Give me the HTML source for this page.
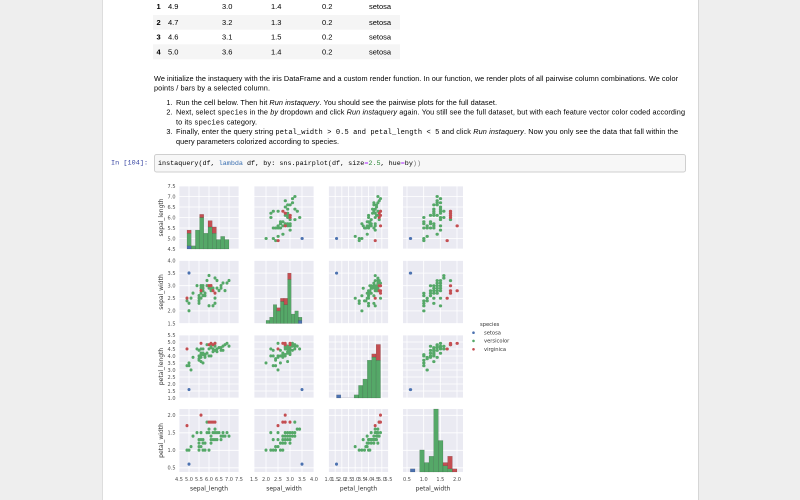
<!DOCTYPE html>
<html><head><meta charset="utf-8">
<style>
html,body{margin:0;padding:0;width:800px;height:500px;overflow:hidden;background:#eeeeee;}
svg{position:absolute;left:0;top:0;display:block;}
.tk{font-family:"DejaVu Sans","Liberation Sans",sans-serif;font-size:5px;fill:#4d4d4d;}
.al{font-family:"DejaVu Sans","Liberation Sans",sans-serif;font-size:6px;fill:#333;}
.tx{font-family:"Liberation Sans",Arial,sans-serif;font-size:7.3px;fill:#000;}
.tb{font-family:"Liberation Sans",Arial,sans-serif;font-size:7.5px;fill:#000;}
.mono{font-family:"Liberation Mono",monospace;font-size:7px;}
.it{font-style:italic;}
.pt{fill:none;stroke-linecap:round;stroke-width:3px;vector-effect:non-scaling-stroke;}
.g{stroke:#55A868;} .r{stroke:#C44E52;} .b{stroke:#4C72B0;}
.hb{stroke:#000;stroke-opacity:.3;stroke-width:.35;}
</style></head>
<body>
<svg width="800" height="500" viewBox="0 0 800 500" xmlns="http://www.w3.org/2000/svg">
<defs>
<g id="P1">
<path class="pt b" d="M3.5 5h.01"/>
<path class="pt g" d="M3.2 7h.01M3.2 6.4h.01M3.1 6.9h.01M2.3 5.5h.01M2.8 6.5h.01M2.8 5.7h.01M3.3 6.3h.01M2.4 4.9h.01M2.9 6.6h.01M2.7 5.2h.01M2 5h.01M3 5.9h.01M2.2 6h.01M2.9 6.1h.01M2.9 5.6h.01M3.1 6.7h.01M3 5.6h.01M2.7 5.8h.01M2.2 6.2h.01M2.5 5.6h.01M3.2 5.9h.01M2.8 6.1h.01M2.5 6.3h.01M2.9 6.4h.01M3 6.6h.01M2.8 6.8h.01M2.9 6h.01M2.6 5.7h.01M2.4 5.5h.01M3 5.4h.01M3.4 6h.01M2.3 6.3h.01M2.5 5.5h.01M2.6 5.5h.01M3 6.1h.01M2.6 5.8h.01M2.3 5h.01M2.7 5.6h.01M3 5.7h.01M2.9 5.7h.01M2.9 6.2h.01M2.5 5.1h.01"/>
<path class="pt r" d="M2.5 4.9h.01M2.8 5.6h.01M2.7 6.3h.01M2.8 6.2h.01M3 6.1h.01M3 6h.01"/>
</g>
<g id="P2">
<path class="pt b" d="M1.6 5h.01"/>
<path class="pt g" d="M4.7 7h.01M4.5 6.4h.01M4.9 6.9h.01M4 5.5h.01M4.6 6.5h.01M4.5 5.7h.01M4.7 6.3h.01M3.3 4.9h.01M4.6 6.6h.01M3.9 5.2h.01M3.5 5h.01M4.2 5.9h.01M4 6h.01M4.7 6.1h.01M3.6 5.6h.01M4.4 6.7h.01M4.5 5.6h.01M4.1 5.8h.01M4.5 6.2h.01M3.9 5.6h.01M4.8 5.9h.01M4 6.1h.01M4.9 6.3h.01M4.3 6.4h.01M4.4 6.6h.01M4.8 6.8h.01M4.5 6h.01M3.5 5.7h.01M3.8 5.5h.01M3.7 5.5h.01M3.9 5.8h.01M4.5 5.4h.01M4.7 6.7h.01M4.4 6.3h.01M4.1 5.6h.01M4.4 5.5h.01M4.6 6.1h.01M4 5.8h.01M3.3 5h.01M4.2 5.6h.01M4.2 5.7h.01M4.3 6.2h.01M3 5.1h.01M4.1 5.7h.01"/>
<path class="pt r" d="M4.5 4.9h.01M4.9 5.6h.01M4.9 6.3h.01M4.8 6.2h.01M4.9 6.1h.01M4.8 6h.01"/>
</g>
<g id="P3">
<path class="pt b" d="M.6 5h.01"/>
<path class="pt g" d="M1.4 7h.01M1.5 6.4h.01M1.5 6.9h.01M1.3 5.5h.01M1.5 6.5h.01M1.3 5.7h.01M1.6 6.3h.01M1 4.9h.01M1.3 6.6h.01M1.4 5.2h.01M1 5h.01M1.5 5.9h.01M1 6h.01M1.4 6.1h.01M1.3 5.6h.01M1.4 6.7h.01M1.5 5.6h.01M1 5.8h.01M1.5 6.2h.01M1.1 5.6h.01M1.8 5.9h.01M1.3 6.1h.01M1.5 6.3h.01M1.2 6.1h.01M1.3 6.4h.01M1.4 6.6h.01M1.4 6.8h.01M1.5 6h.01M1 5.7h.01M1.1 5.5h.01M1 5.5h.01M1.2 5.8h.01M1.5 5.4h.01M1.6 6h.01M1.5 6.7h.01M1.3 6.3h.01M1.2 5.5h.01M1.2 5.7h.01M1.3 6.2h.01M1.1 5.1h.01"/>
<path class="pt r" d="M1.7 4.9h.01M2 5.6h.01M1.8 6.3h.01M1.8 6.2h.01M1.8 6.1h.01M1.8 6h.01"/>
</g>
<g id="P4">
<path class="pt b" d="M1.6 3.5h.01"/>
<path class="pt g" d="M4.7 3.2h.01M4.5 3.2h.01M4.9 3.1h.01M4 2.3h.01M4.6 2.8h.01M4.5 2.8h.01M4.7 3.3h.01M3.3 2.4h.01M4.6 2.9h.01M3.9 2.7h.01M3.5 2h.01M4.2 3h.01M4 2.2h.01M4.7 2.9h.01M3.6 2.9h.01M4.4 3.1h.01M4.5 3h.01M4.1 2.7h.01M4.5 2.2h.01M3.9 2.5h.01M4.8 3.2h.01M4 2.8h.01M4.9 2.5h.01M4.7 2.8h.01M4.3 2.9h.01M4.4 3h.01M4.8 2.8h.01M4.5 2.9h.01M3.5 2.6h.01M3.8 2.4h.01M3.7 2.4h.01M4.5 3.4h.01M4.7 3.1h.01M4.4 2.3h.01M4.1 3h.01M4 2.5h.01M4.4 2.6h.01M4.6 3h.01M4 2.6h.01M3.3 2.3h.01M4.2 2.7h.01M4.2 2.9h.01M3 2.5h.01M4.1 2.8h.01"/>
<path class="pt r" d="M4.5 2.5h.01M4.9 2.8h.01M4.9 2.7h.01M4.8 2.8h.01M4.9 3h.01M4.8 3h.01"/>
</g>
<g id="P5">
<path class="pt b" d="M.6 3.5h.01"/>
<path class="pt g" d="M1.4 3.2h.01M1.5 3.2h.01M1.5 3.1h.01M1.3 2.3h.01M1.5 2.8h.01M1.3 2.8h.01M1.6 3.3h.01M1 2.4h.01M1.3 2.9h.01M1.4 2.7h.01M1 2h.01M1.5 3h.01M1 2.2h.01M1.4 2.9h.01M1.4 3.1h.01M1 2.7h.01M1.5 2.2h.01M1.1 2.5h.01M1.8 3.2h.01M1.5 2.5h.01M1.2 2.8h.01M1.4 3h.01M1.4 2.8h.01M1.5 2.9h.01M1 2.6h.01M1.1 2.4h.01M1.2 2.7h.01M1.6 3.4h.01M1.3 3h.01M1.3 2.5h.01M1.2 2.6h.01M1 2.3h.01M1.3 2.7h.01M1.2 3h.01"/>
<path class="pt r" d="M1.7 2.5h.01M2 2.8h.01M1.8 2.7h.01M1.8 2.8h.01M1.8 3h.01"/>
</g>
<g id="P6">
<path class="pt b" d="M.6 1.6h.01"/>
<path class="pt g" d="M1.4 4.7h.01M1.5 4.5h.01M1.5 4.9h.01M1.3 4h.01M1.5 4.6h.01M1.3 4.5h.01M1.6 4.7h.01M1 3.3h.01M1.3 4.6h.01M1.4 3.9h.01M1 3.5h.01M1.5 4.2h.01M1 4h.01M1.3 3.6h.01M1.4 4.4h.01M1 4.1h.01M1.1 3.9h.01M1.8 4.8h.01M1.2 4.7h.01M1.3 4.3h.01M1.4 4.8h.01M1.1 3.8h.01M1 3.7h.01M1.2 3.9h.01M1.6 4.5h.01M1.5 4.7h.01M1.3 4.4h.01M1.3 4.1h.01M1.2 4.4h.01M1.4 4.6h.01M1.2 4h.01M1.3 4.2h.01M1.2 4.2h.01M1.1 3h.01"/>
<path class="pt r" d="M1.7 4.5h.01M2 4.9h.01M1.8 4.9h.01M1.8 4.8h.01"/>
</g>
</defs>

<!-- page -->
<rect x="0" y="0" width="800" height="500" fill="#eeeeee"/>
<rect x="103" y="0" width="595" height="500" fill="#ffffff"/>
<line x1="102.5" y1="0" x2="102.5" y2="500" stroke="#dddddd" stroke-width="1"/>
<line x1="698.5" y1="0" x2="698.5" y2="500" stroke="#d6d6d6" stroke-width="1"/>

<!-- table -->
<rect x="153" y="15" width="247" height="14.7" fill="#f5f5f5"/>
<rect x="153" y="44.3" width="247" height="15" fill="#f5f5f5"/>
<g class="tb">
<text x="156.5" y="9" font-weight="bold">1</text><text x="168" y="9">4.9</text><text x="222" y="9">3.0</text><text x="271" y="9">1.4</text><text x="322" y="9">0.2</text><text x="369" y="9">setosa</text>
<text x="156.5" y="24.8" font-weight="bold">2</text><text x="168" y="24.8">4.7</text><text x="222" y="24.8">3.2</text><text x="271" y="24.8">1.3</text><text x="322" y="24.8">0.2</text><text x="369" y="24.8">setosa</text>
<text x="156.5" y="39.5" font-weight="bold">3</text><text x="168" y="39.5">4.6</text><text x="222" y="39.5">3.1</text><text x="271" y="39.5">1.5</text><text x="322" y="39.5">0.2</text><text x="369" y="39.5">setosa</text>
<text x="156.5" y="54.5" font-weight="bold">4</text><text x="168" y="54.5">5.0</text><text x="222" y="54.5">3.6</text><text x="271" y="54.5">1.4</text><text x="322" y="54.5">0.2</text><text x="369" y="54.5">setosa</text>
</g>

<!-- markdown text -->
<g class="tx">
<text x="154" y="80.8" textLength="524" lengthAdjust="spacing">We initialize the instaquery with the iris DataFrame and a custom render function. In our function, we render plots of all pairwise column combinations. We color</text>
<text x="154" y="90.5" textLength="116" lengthAdjust="spacing">points / bars by a selected column.</text>
<text x="172.5" y="105" text-anchor="end">1.</text>
<text x="176" y="105" textLength="321" lengthAdjust="spacing">Run the cell below. Then hit <tspan class="it">Run instaquery</tspan>. You should see the pairwise plots for the full dataset.</text>
<text x="172.5" y="114.7" text-anchor="end">2.</text>
<text x="176" y="114.7" textLength="509" lengthAdjust="spacing">Next, select <tspan class="mono">species</tspan> in the <tspan class="it">by</tspan> dropdown and click <tspan class="it">Run instaquery</tspan> again. You still see the full dataset, but with each feature vector color coded according</text>
<text x="176" y="124.4" textLength="81" lengthAdjust="spacing">to its <tspan class="mono">species</tspan> category.</text>
<text x="172.5" y="134.1" text-anchor="end">3.</text>
<text x="176" y="134.1" textLength="502" lengthAdjust="spacing">Finally, enter the query string <tspan class="mono">petal_width &gt; 0.5 and petal_length &lt; 5</tspan> and click <tspan class="it">Run instaquery</tspan>. Now you only see the data that fall within the</text>
<text x="176" y="143.8" textLength="163" lengthAdjust="spacing">query parameters colorized according to species.</text>
</g>

<!-- code cell -->
<text x="111" y="164.5" font-family="Liberation Mono, monospace" font-size="6.75" fill="#303F9F" textLength="37" lengthAdjust="spacing">In [104]:</text>
<rect x="154.5" y="154.5" width="531" height="17.5" rx="2" fill="#f7f7f7" stroke="#cfcfcf" stroke-width="1"/>
<text x="158" y="164.8" font-family="Liberation Mono, monospace" font-size="6.75" fill="#000" textLength="263" lengthAdjust="spacing">instaquery(df, <tspan fill="#3a6fb0">lambda</tspan> df, by: sns.pairplot(df, size<tspan fill="#aa22ff">=</tspan><tspan fill="#2e8b3a">2.5</tspan>, hue<tspan fill="#aa22ff">=</tspan>by<tspan fill="#777">))</tspan></text>

<!-- axes backgrounds -->
<g fill="#EAEAF2">
<rect x="179" y="186" width="60" height="63"/><rect x="254" y="186" width="60" height="63"/><rect x="328.5" y="186" width="60" height="63"/><rect x="403" y="186" width="60" height="63"/>
<rect x="179" y="260.5" width="60" height="63"/><rect x="254" y="260.5" width="60" height="63"/><rect x="328.5" y="260.5" width="60" height="63"/><rect x="403" y="260.5" width="60" height="63"/>
<rect x="179" y="335" width="60" height="63"/><rect x="254" y="335" width="60" height="63"/><rect x="328.5" y="335" width="60" height="63"/><rect x="403" y="335" width="60" height="63"/>
<rect x="179" y="409" width="60" height="63"/><rect x="254" y="409" width="60" height="63"/><rect x="328.5" y="409" width="60" height="63"/><rect x="403" y="409" width="60" height="63"/>
</g>

<!-- grid -->
<path stroke="#ffffff" stroke-width="0.8" fill="none" d="
M179 186V472M189 186V472M199 186V472M209 186V472M219 186V472M229 186V472M239 186V472
M254 186V472M266 186V472M278 186V472M290 186V472M302 186V472M314 186V472
M328.5 186V472M335.17 186V472M341.83 186V472M348.5 186V472M355.17 186V472M361.83 186V472M368.5 186V472M375.17 186V472M381.83 186V472M388.5 186V472
M407 186V472M423.67 186V472M440.33 186V472M457 186V472
M179 186H463M179 196.5H463M179 207H463M179 217.5H463M179 228H463M179 238.5H463M179 249H463
M179 260.5H463M179 273.1H463M179 285.7H463M179 298.3H463M179 310.9H463M179 323.5H463
M179 335H463M179 342H463M179 349H463M179 356H463M179 363H463M179 370H463M179 377H463M179 384H463M179 391H463M179 398H463
M179 415.3H463M179 432.8H463M179 450.3H463M179 467.8H463"/>

<!-- histograms -->
<g class="hb">
<rect x="187" y="245.85" width="4.2" height="3.15" fill="#4C72B0"/>
<rect x="187" y="233.25" width="4.2" height="12.6" fill="#55A868"/>
<rect x="187" y="230.1" width="4.2" height="3.15" fill="#C44E52"/>
<rect x="191.2" y="245.85" width="4.2" height="3.15" fill="#55A868"/>
<rect x="195.4" y="230.1" width="4.2" height="18.9" fill="#55A868"/>
<rect x="199.6" y="217.5" width="4.2" height="31.5" fill="#55A868"/>
<rect x="199.6" y="214.35" width="4.2" height="3.15" fill="#C44E52"/>
<rect x="203.8" y="233.25" width="4.2" height="15.75" fill="#55A868"/>
<rect x="208" y="226.95" width="4.2" height="22.05" fill="#55A868"/>
<rect x="208" y="220.65" width="4.2" height="6.3" fill="#C44E52"/>
<rect x="212.2" y="233.25" width="4.2" height="15.75" fill="#55A868"/>
<rect x="212.2" y="226.95" width="4.2" height="6.3" fill="#C44E52"/>
<rect x="216.4" y="239.55" width="4.2" height="9.45" fill="#55A868"/>
<rect x="220.6" y="236.4" width="4.2" height="12.6" fill="#55A868"/>
<rect x="224.8" y="239.55" width="4.2" height="9.45" fill="#55A868"/>
<rect x="266" y="320.35" width="3.6" height="3.15" fill="#55A868"/>
<rect x="269.6" y="317.2" width="3.6" height="6.3" fill="#55A868"/>
<rect x="273.2" y="304.6" width="3.6" height="18.9" fill="#55A868"/>
<rect x="276.8" y="310.9" width="3.6" height="12.6" fill="#55A868"/>
<rect x="276.8" y="307.75" width="3.6" height="3.15" fill="#C44E52"/>
<rect x="280.4" y="301.45" width="3.6" height="22.05" fill="#55A868"/>
<rect x="280.4" y="298.3" width="3.6" height="3.15" fill="#C44E52"/>
<rect x="284" y="304.6" width="3.6" height="18.9" fill="#55A868"/>
<rect x="284" y="298.3" width="3.6" height="6.3" fill="#C44E52"/>
<rect x="287.6" y="279.4" width="3.6" height="44.1" fill="#55A868"/>
<rect x="287.6" y="273.1" width="3.6" height="6.3" fill="#C44E52"/>
<rect x="291.2" y="314.05" width="3.6" height="9.45" fill="#55A868"/>
<rect x="294.8" y="310.9" width="3.6" height="12.6" fill="#55A868"/>
<rect x="298.4" y="320.35" width="3.6" height="3.15" fill="#4C72B0"/>
<rect x="298.4" y="317.2" width="3.6" height="3.15" fill="#55A868"/>
<rect x="336.5" y="394.85" width="4.4" height="3.15" fill="#4C72B0"/>
<rect x="340.9" y="397.4" width="13.2" height="0.6" fill="#cfcfd8" stroke="none"/>
<rect x="354.1" y="394.85" width="4.4" height="3.15" fill="#55A868"/>
<rect x="358.5" y="385.4" width="4.4" height="12.6" fill="#55A868"/>
<rect x="362.9" y="379.1" width="4.4" height="18.9" fill="#55A868"/>
<rect x="367.3" y="360.2" width="4.4" height="37.8" fill="#55A868"/>
<rect x="371.7" y="357.05" width="4.4" height="40.95" fill="#55A868"/>
<rect x="371.7" y="353.9" width="4.4" height="3.15" fill="#C44E52"/>
<rect x="376.1" y="360.2" width="4.4" height="37.8" fill="#55A868"/>
<rect x="376.1" y="344.45" width="4.4" height="15.75" fill="#C44E52"/>
<rect x="410.33" y="468.85" width="4.67" height="3.15" fill="#4C72B0"/>
<rect x="419.67" y="449.95" width="4.67" height="22.05" fill="#55A868"/>
<rect x="424.33" y="462.55" width="4.67" height="9.45" fill="#55A868"/>
<rect x="429" y="456.25" width="4.67" height="15.75" fill="#55A868"/>
<rect x="433.67" y="409" width="4.67" height="63" fill="#55A868"/>
<rect x="438.33" y="440.5" width="4.67" height="31.5" fill="#55A868"/>
<rect x="443" y="465.7" width="4.67" height="6.3" fill="#55A868"/>
<rect x="443" y="462.55" width="4.67" height="3.15" fill="#C44E52"/>
<rect x="447.67" y="468.85" width="4.67" height="3.15" fill="#55A868"/>
<rect x="447.67" y="456.25" width="4.67" height="12.6" fill="#C44E52"/>
<rect x="452.33" y="468.85" width="4.67" height="3.15" fill="#C44E52"/>
</g>

<!-- scatter panels -->
<use href="#P1" transform="matrix(24,0,0,-21,218,343.5)"/>
<use href="#P2" transform="matrix(13.3333,0,0,-21,315.1667,343.5)"/>
<use href="#P3" transform="matrix(33.3333,0,0,-21,390.3333,343.5)"/>
<use href="#P1" transform="matrix(0,-25.2,20,0,89,361.3)"/>
<use href="#P4" transform="matrix(13.3333,0,0,-25.2,315.1667,361.3)"/>
<use href="#P5" transform="matrix(33.3333,0,0,-25.2,390.3333,361.3)"/>
<use href="#P2" transform="matrix(0,-14,20,0,89,412)"/>
<use href="#P4" transform="matrix(0,-14,24,0,218,412)"/>
<use href="#P6" transform="matrix(33.3333,0,0,-14,390.3333,412)"/>
<use href="#P3" transform="matrix(0,-35,20,0,89,485.3)"/>
<use href="#P5" transform="matrix(0,-35,24,0,218,485.3)"/>
<use href="#P6" transform="matrix(0,-35,13.3333,0,315.1667,485.3)"/>

<!-- y tick labels -->
<g class="tk" text-anchor="end">
<text x="175.5" y="187.8">7.5</text><text x="175.5" y="198.3">7.0</text><text x="175.5" y="208.8">6.5</text><text x="175.5" y="219.3">6.0</text><text x="175.5" y="229.8">5.5</text><text x="175.5" y="240.3">5.0</text><text x="175.5" y="250.8">4.5</text>
<text x="175.5" y="262.3">4.0</text><text x="175.5" y="274.9">3.5</text><text x="175.5" y="287.5">3.0</text><text x="175.5" y="300.1">2.5</text><text x="175.5" y="312.7">2.0</text><text x="175.5" y="325.3">1.5</text>
<text x="175.5" y="336.8">5.5</text><text x="175.5" y="343.8">5.0</text><text x="175.5" y="350.8">4.5</text><text x="175.5" y="357.8">4.0</text><text x="175.5" y="364.8">3.5</text><text x="175.5" y="371.8">3.0</text><text x="175.5" y="378.8">2.5</text><text x="175.5" y="385.8">2.0</text><text x="175.5" y="392.8">1.5</text><text x="175.5" y="399.8">1.0</text>
<text x="175.5" y="417.1">2.0</text><text x="175.5" y="434.6">1.5</text><text x="175.5" y="452.1">1.0</text><text x="175.5" y="469.6">0.5</text>
</g>

<!-- x tick labels -->
<g class="tk" text-anchor="middle">
<text x="179" y="481">4.5</text><text x="189" y="481">5.0</text><text x="199" y="481">5.5</text><text x="209" y="481">6.0</text><text x="219" y="481">6.5</text><text x="229" y="481">7.0</text><text x="239" y="481">7.5</text>
<text x="254" y="481">1.5</text><text x="266" y="481">2.0</text><text x="278" y="481">2.5</text><text x="290" y="481">3.0</text><text x="302" y="481">3.5</text><text x="314" y="481">4.0</text>
<text x="328.5" y="481">1.0</text><text x="335.17" y="481">1.5</text><text x="341.83" y="481">2.0</text><text x="348.5" y="481">2.5</text><text x="355.17" y="481">3.0</text><text x="361.83" y="481">3.5</text><text x="368.5" y="481">4.0</text><text x="375.17" y="481">4.5</text><text x="381.83" y="481">5.0</text><text x="388.5" y="481">5.5</text>
<text x="407" y="481">0.5</text><text x="423.67" y="481">1.0</text><text x="440.33" y="481">1.5</text><text x="457" y="481">2.0</text>
</g>

<!-- axis labels -->
<g class="al" text-anchor="middle">
<text x="209" y="490.5">sepal_length</text>
<text x="284" y="490.5">sepal_width</text>
<text x="358.5" y="490.5">petal_length</text>
<text x="433" y="490.5">petal_width</text>
<text transform="translate(163,217.5) rotate(-90)">sepal_length</text>
<text transform="translate(163,292) rotate(-90)">sepal_width</text>
<text transform="translate(163,366.5) rotate(-90)">petal_length</text>
<text transform="translate(163,440.5) rotate(-90)">petal_width</text>
</g>

<!-- legend -->
<g font-family="DejaVu Sans, Liberation Sans, sans-serif" font-size="5.2" fill="#333">
<text x="480" y="326">species</text>
<circle cx="473.5" cy="332.7" r="1.3" fill="#4C72B0"/>
<text x="484" y="334.5">setosa</text>
<circle cx="473.5" cy="340.9" r="1.3" fill="#55A868"/>
<text x="484" y="342.7">versicolor</text>
<circle cx="473.5" cy="349.3" r="1.3" fill="#C44E52"/>
<text x="484" y="351.1">virginica</text>
</g>
</svg>
</body></html>
